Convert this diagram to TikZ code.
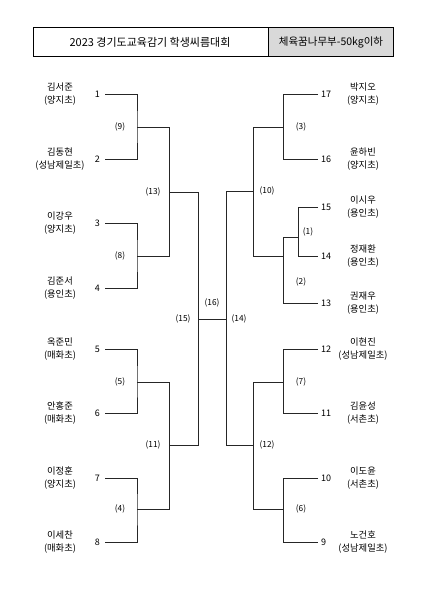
\documentclass[tikz,border=0pt]{standalone}
\usepackage{fontspec}
\setmainfont{Noto Sans CJK KR}
\begin{document}
\begin{tikzpicture}[x=1pt,y=-1pt,
  line/.style={line width=0.8pt,black!85},
  nm/.style={font=\fontsize{9.3}{13}\selectfont,align=center,inner sep=0pt},
  num/.style={font=\fontsize{9}{10}\selectfont,inner sep=0pt},
  rnd/.style={font=\fontsize{8.3}{10}\selectfont,inner sep=0pt}]
\useasboundingbox (0,0) rectangle (424,600);
% header
\draw[line width=0.8pt,fill=black!15] (268,27) rectangle (393,56);
\draw[line width=0.8pt] (33,27) rectangle (268,56);
\node[font=\fontsize{11}{13}\selectfont] (title) at (150,42) {2023 경기도교육감기 학생씨름대회};
\node[font=\fontsize{10.5}{13}\selectfont] (cat) at (331,42) {체육꿈나무부-50kg이하};
% left names
\node[nm] (n1) at (60,94) {김서준\\(양지초)};
\node[nm] (n2) at (60,159) {김동현\\(성남제일초)};
\node[nm] (n3) at (60,223) {이강우\\(양지초)};
\node[nm] (n4) at (60,288) {김준서\\(용인초)};
\node[nm] (n5) at (60,349) {옥준민\\(매화초)};
\node[nm] (n6) at (60,413) {안홍준\\(매화초)};
\node[nm] (n7) at (60,478) {이정훈\\(양지초)};
\node[nm] (n8) at (60,542) {이세찬\\(매화초)};
% right names
\node[nm] (n17) at (363,94) {박지오\\(양지초)};
\node[nm] (n16) at (363,159) {윤하빈\\(양지초)};
\node[nm] (n15) at (363,207) {이시우\\(용인초)};
\node[nm] (n14) at (363,256) {정재환\\(용인초)};
\node[nm] (n13) at (363,303) {권재우\\(용인초)};
\node[nm] (n12) at (363,349) {이현진\\(성남제일초)};
\node[nm] (n11) at (363,413) {김윤성\\(서촌초)};
\node[nm] (n10) at (363,478) {이도윤\\(서촌초)};
\node[nm] (n9) at (363,542) {노건호\\(성남제일초)};
% left numbers
\foreach \i/\y in {1/94,2/159,3/223,4/288,5/349,6/413,7/478,8/542}{
  \node[num,anchor=east] (s\i) at (100,\y) {\i};
  \coordinate (L\i) at (105,\y);
}
% right numbers
\foreach \i/\y/\x in {17/94/283,16/159/283,15/207/298,14/256/298,13/303/283,12/349/283,11/413/283,10/478/283,9/542/283}{
  \node[num,anchor=west] (s\i) at (321,\y) {\i};
  \coordinate (R\i) at (318,\y);
  \coordinate (Q\i) at (\x,\y);
}
% left junctions
\coordinate (J9) at (137,127);  \coordinate (J9e) at (169,127);
\coordinate (J8) at (137,256);  \coordinate (J8e) at (169,256);
\coordinate (J5) at (137,382);  \coordinate (J5e) at (169,382);
\coordinate (J4) at (137,509);  \coordinate (J4e) at (169,509);
\coordinate (J13) at (169,192); \coordinate (J13e) at (198,192);
\coordinate (J11) at (169,445); \coordinate (J11e) at (198,445);
\coordinate (J15) at (198,319);
% right junctions
\coordinate (K3) at (283,127);  \coordinate (K3e) at (253,127);
\coordinate (K1) at (298,237);  \coordinate (K1e) at (283,237);
\coordinate (K2) at (283,256);  \coordinate (K2e) at (253,256);
\coordinate (K7) at (283,382);  \coordinate (K7e) at (253,382);
\coordinate (K6) at (283,509);  \coordinate (K6e) at (253,509);
\coordinate (K10) at (253,191); \coordinate (K10e) at (226,191);
\coordinate (K12) at (253,445); \coordinate (K12e) at (226,445);
\coordinate (K14) at (226,319);
% left bracket lines
\draw[line] (L1) -| (J9) |- (L2);
\draw[line] (L3) -| (J8) |- (L4);
\draw[line] (L5) -| (J5) |- (L6);
\draw[line] (L7) -| (J4) |- (L8);
\draw[line] (J9) -- (J9e) -- (J8e) -- (J8);
\draw[line] (J5) -- (J5e) -- (J4e) -- (J4);
\draw[line] (J13) -- (J13e) -- (J11e) -- (J11);
\draw[line] (J15) -- (K14);
% right bracket lines
\draw[line] (R17) -- (Q17) -- (Q16) -- (R16);
\draw[line] (R15) -- (Q15) -- (Q14) -- (R14);
\draw[line] (K1) -- (K1e) -- (Q13) -- (R13);
\draw[line] (R12) -- (Q12) -- (Q11) -- (R11);
\draw[line] (R10) -- (Q10) -- (Q9) -- (R9);
\draw[line] (K3) -- (K3e) -- (K2e) -- (K2);
\draw[line] (K7) -- (K7e) -- (K6e) -- (K6);
\draw[line] (K10) -- (K10e) -- (K12e) -- (K12);
% round labels
\node[rnd] (r9) at (120,127) {(9)};
\node[rnd] (r8) at (120,256) {(8)};
\node[rnd] (r5) at (120,382) {(5)};
\node[rnd] (r4) at (120,509) {(4)};
\node[rnd] (r13) at (153,192) {(13)};
\node[rnd] (r11) at (153,445) {(11)};
\node[rnd] (r15) at (183,319) {(15)};
\node[rnd] (r16) at (212,303) {(16)};
\node[rnd] (r14) at (239,319) {(14)};
\node[rnd] (r10) at (267,191) {(10)};
\node[rnd] (r12) at (267,445) {(12)};
\node[rnd] (r3) at (301,127) {(3)};
\node[rnd] (r1) at (308,232) {(1)};
\node[rnd] (r2) at (301,282) {(2)};
\node[rnd] (r7) at (301,382) {(7)};
\node[rnd] (r6) at (301,509) {(6)};
\end{tikzpicture}
\end{document}
